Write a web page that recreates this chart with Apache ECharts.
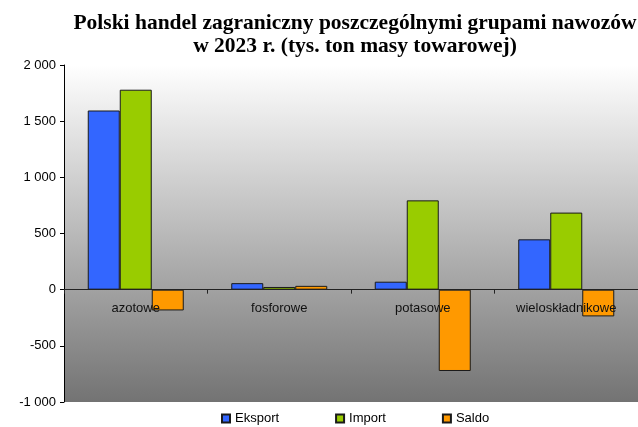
<!DOCTYPE html>
<html><head><meta charset="utf-8">
<script src="https://cdn.jsdelivr.net/npm/echarts@6/dist/echarts.min.js"></script>
<style>html,body{margin:0;padding:0;background:#fff}#c{width:638px;height:427px}</style>
</head><body><div id="c"></div>
<script>
var categories = ['azotowe', 'fosforowe', 'potasowe', 'wieloskładnikowe'];
var eksport = [1595, 58, 71, 448];
var importV = [1780, 24, 795, 686];
var saldo = [-185, 34, -724, -238];
var seriesNames = ['Eksport', 'Import', 'Saldo'];
var colors = ['#3366FF', '#99CC00', '#FF9900'];
var titleText = 'Polski handel zagraniczny poszczególnymi grupami nawozów\nw 2023 r. (tys. ton masy towarowej)';

var chart = echarts.init(document.getElementById('c'), null, {renderer: 'canvas'});
function fmt(v){ var s = Math.abs(v).toString(); s = s.replace(/\B(?=(\d{3})+(?!\d))/g, ' '); return (v<0?'-':'') + s; }
var data = [eksport, importV, saldo];
chart.setOption({
  animation: false,
  backgroundColor: '#ffffff',
  title: {
    text: titleText, left: 350, top: 7, textAlign: 'center',
    textStyle: {fontFamily: 'Liberation Serif', fontWeight: 'bold', fontSize: 21.5, lineHeight: 23, color: '#000'}
  },
  legend: {
    left: 216, top: 407, itemWidth: 8, itemHeight: 8, itemGap: 56, icon: 'rect',
    textStyle: {fontFamily: 'Liberation Sans', fontSize: 13, color: '#000'},
    data: seriesNames
  },
  grid: {
    left: 64, top: 65, width: 577, height: 337, show: true, borderWidth: 0,
    backgroundColor: new echarts.graphic.LinearGradient(0, 0, 0, 1, [
      {offset: 0, color: '#ffffff'}, {offset: 1, color: '#737373'}
    ])
  },
  xAxis: {
    type: 'category', data: categories, z: 10,
    axisLine: {onZero: true, lineStyle: {color: '#222', width: 1}},
    axisTick: {show: true, length: 4, lineStyle: {color: '#222'}},
    axisLabel: {margin: -100, fontFamily: 'Liberation Sans', fontSize: 13, color: '#111'},
    splitLine: {show: false}
  },
  yAxis: {
    type: 'value', min: -1000, max: 2000, interval: 500,
    axisLine: {show: true, lineStyle: {color: '#000', width: 1}},
    axisTick: {show: true, length: 4, lineStyle: {color: '#000'}},
    axisLabel: {margin: 8, fontFamily: 'Liberation Sans', fontSize: 13, color: '#000', formatter: fmt},
    splitLine: {show: false}
  },
  series: seriesNames.map(function(n, i){
    return {
      name: n, type: 'bar', data: data[i], barWidth: 32, barGap: '0%',
      itemStyle: {color: colors[i], borderColor: '#1a1a1a', borderWidth: 1}
    };
  })
});
</script></body></html>
